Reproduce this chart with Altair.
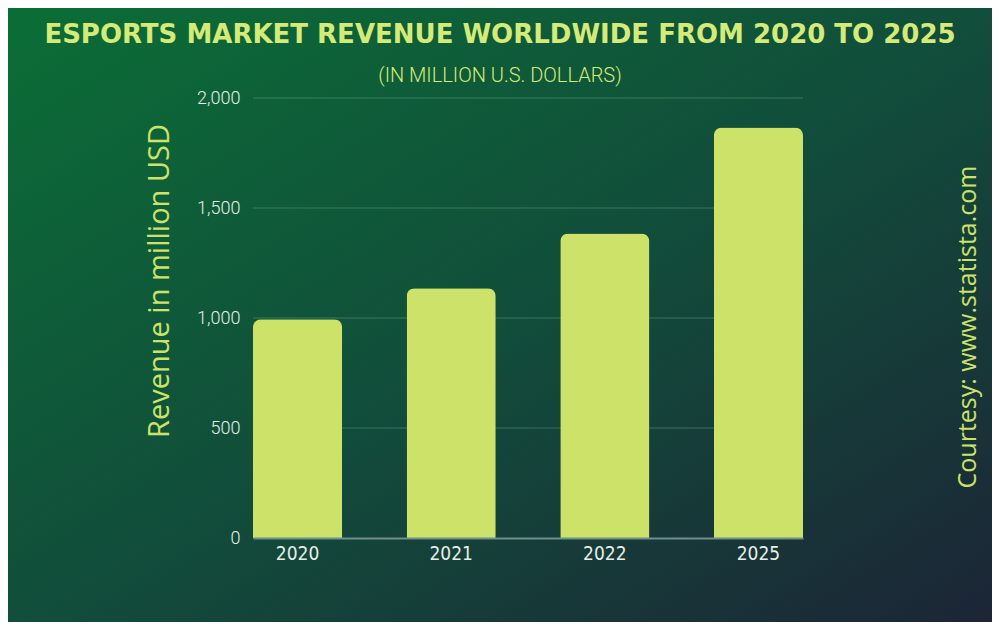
import altair as alt
import pandas as pd

years = ["2020", "2021", "2022", "2025"]
revenue = [994, 1135, 1384, 1866]
y_ticks = [0, 500, 1000, 1500, 2000]
grid_values = [500, 1000, 1500, 2000]

title_text = "ESPORTS MARKET REVENUE WORLDWIDE FROM 2020 TO 2025"
subtitle_text = "(IN MILLION U.S. DOLLARS)"
y_title_text = "Revenue in million USD"
credit_text = "Courtesy: www.statista.com"

W, H = 550, 440
PAD = {"left": 245, "top": 90, "right": 189, "bottom": 84}

LIME = "#cde268"
TITLE_C = "#d6ea78"
LABEL_C = "#e6efe6"

df = pd.DataFrame({"year": years, "revenue": revenue})
gdf = pd.DataFrame({"v": grid_values})
one = pd.DataFrame({"k": [0]})

bg = alt.Chart(one).mark_rect(
    fill=alt.Gradient(
        gradient="linear",
        stops=[
            alt.GradientStop(offset=0, color="#0b6e36"),
            alt.GradientStop(offset=0.5, color="#114e3b"),
            alt.GradientStop(offset=1, color="#1c2536"),
        ],
        x1=0, y1=0, x2=1, y2=1,
    )
).encode(
    x=alt.value(-PAD["left"]), x2=alt.value(W + PAD["right"]),
    y=alt.value(-PAD["top"]), y2=alt.value(H + PAD["bottom"]),
)

yscale = alt.Scale(domain=[0, 2000], nice=False)
yaxis = alt.Axis(title=None, values=y_ticks, format=",d",
                 labelFontSize=18, labelColor=LABEL_C,
                 labelFont="Roboto, sans-serif", labelFontWeight=300,
                 labelPadding=13,
                 ticks=False, domain=False, grid=False, zindex=1)

grid = alt.Chart(gdf).mark_rule(color="#6fa585", opacity=0.45, strokeWidth=1).encode(
    y=alt.Y("v:Q", scale=yscale, axis=yaxis),
    x=alt.value(0), x2=alt.value(W),
)

bars = alt.Chart(df).mark_bar(
    color=LIME, cornerRadiusTopLeft=8, cornerRadiusTopRight=8
).encode(
    x=alt.X("year:N", sort=years,
            scale=alt.Scale(paddingInner=0.42, paddingOuter=0),
            axis=alt.Axis(title=None, labelAngle=0, labelFontSize=19,
                          labelColor=LABEL_C,
                          labelFont="Liberation Sans Narrow, DejaVu Sans Condensed, sans-serif",
                          labelPadding=6, ticks=False, domainColor="#6e8f8c",
                          domainWidth=2, grid=False, zindex=1)),
    y=alt.Y("revenue:Q", scale=yscale, axis=yaxis),
)

def txt(text, x, y, size, color, font, weight="normal", angle=0, baseline="alphabetic"):
    d = pd.DataFrame({"t": [text]})
    return alt.Chart(d).mark_text(
        fontSize=size, color=color, font=font, fontWeight=weight,
        angle=angle, align="center", baseline=baseline,
    ).encode(x=alt.value(x), y=alt.value(y), text="t:N")

title = txt(title_text, 247, -55, 26, TITLE_C, "DejaVu Sans", "bold")
subtitle = txt(subtitle_text, 247, -16, 20, TITLE_C, "Roboto", 300)
ytitle = txt(y_title_text, -93, 183, 29, LIME, "Open Sans", "normal", 270, "middle")
credit = txt(credit_text, 715, 229, 25, LIME, "Open Sans", "normal", 270, "middle")

chart = alt.layer(bg, grid, bars, title, subtitle, ytitle, credit).properties(
    width=W, height=H, padding=PAD,
    autosize=alt.AutoSizeParams(type="none"),
    background="#114e3b",
).configure_view(stroke=None)

chart.save("out.html", embed_options={"renderer": "svg", "actions": False})
